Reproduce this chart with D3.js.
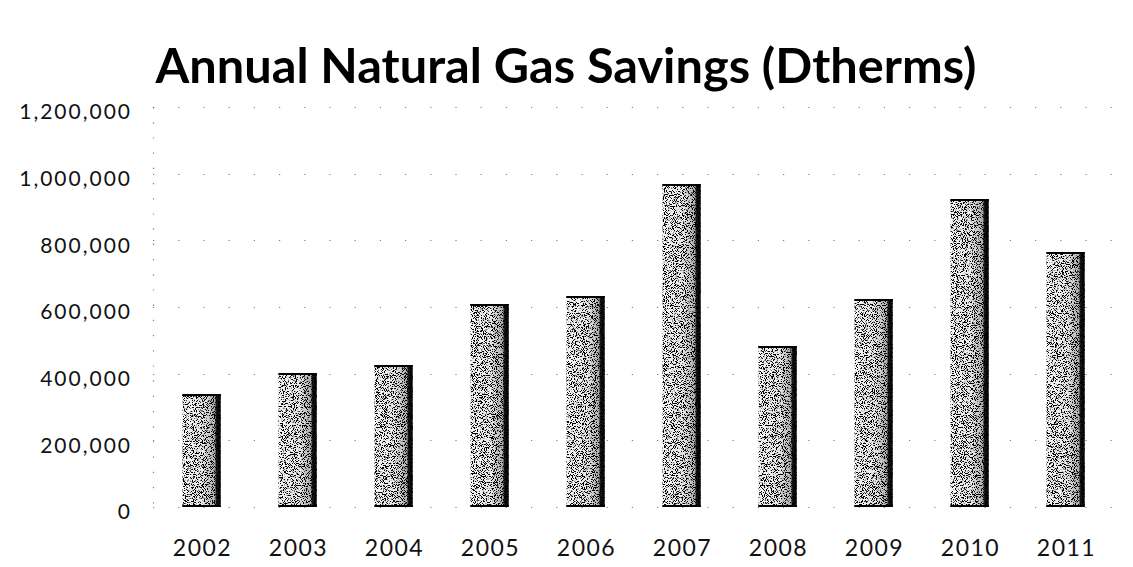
<!DOCTYPE html>
<html>
<head>
<meta charset="utf-8">
<script src="https://cdn.jsdelivr.net/npm/d3@7"></script>
<style>
  body { margin: 0; background: #fff; }
  svg { display: block; font-family: Lato, "Open Sans", sans-serif; }
</style>
</head>
<body>
<svg id="chart" width="1133" height="567"></svg>
<script>
const years = ['2002', '2003', '2004', '2005', '2006', '2007', '2008', '2009', '2010', '2011']
const savings = [339000, 402000, 426000, 609000, 633000, 969000, 483000, 624000, 924000, 765000]
const yTicks = [0, 200000, 400000, 600000, 800000, 1000000, 1200000]
const title = 'Annual Natural Gas Savings (Dtherms)'

const svg = d3.select('#chart')

const x = d3.scaleBand().domain(years).range([153.5, 1113.5]).paddingInner(0.6).paddingOuter(0.3)
const y = d3.scaleLinear().domain([0, 1200000]).range([507, 107])

const defs = svg.append('defs')

const grad = defs.append('linearGradient').attr('id', 'barFill')
grad.append('stop').attr('offset', '0%').attr('stop-color', '#f6f6f6')
grad.append('stop').attr('offset', '55%').attr('stop-color', '#e8e8e8')
grad.append('stop').attr('offset', '84%').attr('stop-color', '#b0b0b0')
grad.append('stop').attr('offset', '89%').attr('stop-color', '#1a1a1a')
grad.append('stop').attr('offset', '100%').attr('stop-color', '#000')

// speckled look of the scanned bars
const stipple = defs.append('filter').attr('id', 'stipple')
  .attr('x', 0).attr('y', 0).attr('width', 1).attr('height', 1)
stipple.append('feTurbulence')
  .attr('type', 'fractalNoise').attr('baseFrequency', 1.1)
  .attr('numOctaves', 1).attr('seed', 7).attr('result', 'noise')
stipple.append('feColorMatrix')
  .attr('in', 'noise').attr('type', 'matrix')
  .attr('values', '0 0 0 0 0  0 0 0 0 0  0 0 0 0 0  -16 0 0 0 7.9')
  .attr('result', 'dots')
stipple.append('feComposite')
  .attr('in', 'dots').attr('in2', 'SourceGraphic').attr('operator', 'in').attr('result', 'clipped')
const merge = stipple.append('feMerge')
merge.append('feMergeNode').attr('in', 'SourceGraphic')
merge.append('feMergeNode').attr('in', 'clipped')

// faint dotted gridlines
svg.append('g')
  .selectAll('line')
  .data(yTicks)
  .join('line')
  .attr('x1', 153).attr('x2', 1125)
  .attr('y1', (d) => Math.round(y(d)) + 0.5)
  .attr('y2', (d) => Math.round(y(d)) + 0.5)
  .attr('stroke', '#444')
  .attr('stroke-width', 1.2)
  .attr('stroke-dasharray', '1.2 24')
  .attr('opacity', 0.7)

svg.append('line')
  .attr('x1', 153.5).attr('x2', 153.5)
  .attr('y1', y(1200000)).attr('y2', y(0))
  .attr('stroke', '#444')
  .attr('stroke-width', 1.2)
  .attr('stroke-dasharray', '1.2 14')
  .attr('opacity', 0.7)

// bars
const bars = svg.append('g')
bars.selectAll('rect')
  .data(years)
  .join('rect')
  .attr('x', (d) => x(d))
  .attr('y', (d, i) => y(savings[i]))
  .attr('width', x.bandwidth())
  .attr('height', (d, i) => y(0) - y(savings[i]))
  .attr('fill', 'url(#barFill)')
  .attr('filter', 'url(#stipple)')

bars.selectAll('path')
  .data(years)
  .join('path')
  .attr('d', (d, i) => {
    const x0 = x(d)
    const x1 = x(d) + x.bandwidth()
    const top = y(savings[i])
    return `M${x0},${top + 1} H${x1} M${x0},${y(0) - 1} H${x1}`
  })
  .attr('stroke', '#000')
  .attr('stroke-width', 2)
  .attr('fill', 'none')

// y axis labels
const yAxis = d3.axisLeft(y)
  .tickValues(yTicks)
  .tickFormat(d3.format(','))
  .tickSize(0)
  .tickPadding(0)

svg.append('g')
  .attr('transform', 'translate(132,5)')
  .call(yAxis)
  .call((g) => g.select('.domain').remove())
  .selectAll('text')
  .attr('font-size', 21)
  .attr('letter-spacing', 2)
  .attr('fill', '#111')
  .style('font-family', 'Lato, "Open Sans", sans-serif')

// x axis labels
const xAxis = d3.axisBottom(x).tickSize(0).tickPadding(0)
svg.append('g')
  .attr('transform', 'translate(1,540)')
  .call(xAxis)
  .call((g) => g.select('.domain').remove())
  .selectAll('text')
  .attr('font-size', 23)
  .attr('letter-spacing', 1.5)
  .attr('fill', '#111')
  .style('font-family', 'Lato, "Open Sans", sans-serif')

// title, sized to span the same width as the original
const titleText = svg.append('text')
  .attr('x', 566)
  .attr('y', 83)
  .attr('text-anchor', 'middle')
  .attr('font-weight', 'bold')
  .attr('font-size', 44)
  .attr('fill', '#000')
  .text(title)
const measured = titleText.node().getComputedTextLength()
titleText.attr('font-size', 44 * 821 / measured)
</script>
</body>
</html>
